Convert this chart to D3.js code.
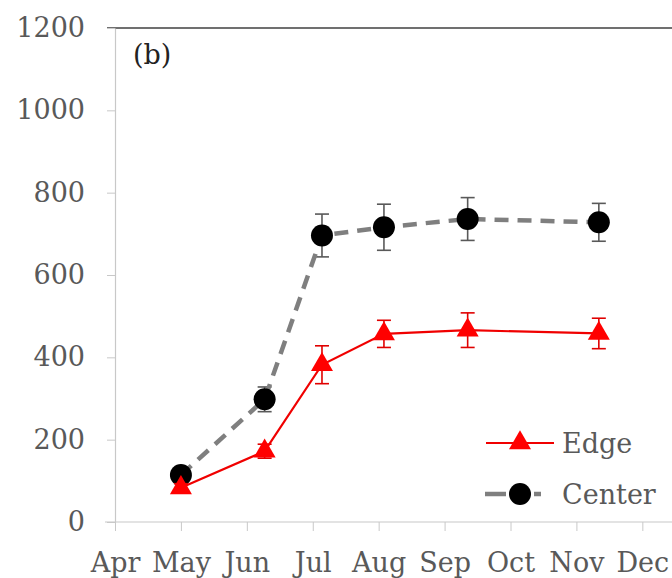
<!DOCTYPE html>
<html>
<head>
<meta charset="utf-8">
<script src="https://cdn.jsdelivr.net/npm/d3@7"></script>
<style>
  body { margin: 0; background: #fff; }
  text { font-family: "DejaVu Serif", serif; }
</style>
</head>
<body>
<div id="chart"></div>
<script>
// month labels on the x axis (Apr = 4 ... Dec = 12)
const months = ["Apr", "May", "Jun", "Jul", "Aug", "Sep", "Oct", "Nov", "Dec"];
const monthNums = [4, 5, 6, 7, 8, 9, 10, 11, 12];
const yTicks = [0, 200, 400, 600, 800, 1000, 1200];

// sampling dates as fractional month
const sampleX = [5.0, 6.27, 7.14, 8.08, 9.35, 11.34];
const edgeVals = [83, 172, 382, 457, 466, 458];
const edgeErr = [10, 17, 46, 33, 42, 37];
const centerVals = [114, 298, 696, 716, 736, 728];
const centerErr = [14, 30, 52, 56, 52, 46];

const width = 672, height = 578;
const svg = d3.select("#chart").append("svg")
  .attr("width", width)
  .attr("height", height);

const x = d3.scaleLinear().domain([4, 12.45]).range([115, 672]);
const y = d3.scaleLinear().domain([0, 1200]).range([522, 28]);

// top frame line
svg.append("line")
  .attr("x1", 107).attr("x2", width)
  .attr("y1", y(1200)).attr("y2", y(1200))
  .attr("stroke", "#404040").attr("stroke-width", 1.5);

// y axis
const yAxis = svg.append("g")
  .attr("transform", `translate(${x(4)},0)`)
  .call(d3.axisLeft(y).tickValues(yTicks).tickFormat(d3.format("d"))
    .tickSize(8).tickSizeOuter(0).tickPadding(22));
yAxis.select(".domain").attr("stroke", "#c8c8c8").attr("stroke-width", 1.2);
yAxis.selectAll(".tick line").attr("stroke", "#c8c8c8");
yAxis.selectAll(".tick text")
  .attr("fill", "#595959")
  .style("font-size", "27px")
  .style("font-family", "DejaVu Serif, serif");

// x axis
svg.append("line")
  .attr("x1", 105).attr("x2", width)
  .attr("y1", y(0)).attr("y2", y(0))
  .attr("stroke", "#c8c8c8").attr("stroke-width", 1.2);
const xAxis = svg.append("g")
  .attr("transform", `translate(0,${y(0)})`)
  .call(d3.axisBottom(x).tickValues(monthNums).tickFormat((d, i) => months[i]).tickSize(9).tickSizeOuter(0).tickPadding(22));
xAxis.select(".domain").remove();
xAxis.selectAll(".tick line").attr("stroke", "#c8c8c8");
xAxis.selectAll(".tick text")
  .attr("fill", "#595959")
  .style("font-size", "27px")
  .style("font-family", "DejaVu Serif, serif");

// panel label
svg.append("text")
  .attr("x", 133).attr("y", 64)
  .attr("fill", "#222")
  .style("font-size", "27px")
  .text("(b)");

const centerData = sampleX.map((d, i) => ({ x: d, v: centerVals[i], e: centerErr[i] }));
const edgeData = sampleX.map((d, i) => ({ x: d, v: edgeVals[i], e: edgeErr[i] }));

const line = d3.line().x(d => x(d.x)).y(d => y(d.v));

function errorBars(data, color) {
  const g = svg.append("g").attr("stroke", color).attr("stroke-width", 1.6);
  data.forEach(d => {
    const cx = x(d.x);
    g.append("line").attr("x1", cx).attr("x2", cx).attr("y1", y(d.v - d.e)).attr("y2", y(d.v + d.e));
    g.append("line").attr("x1", cx - 7).attr("x2", cx + 7).attr("y1", y(d.v + d.e)).attr("y2", y(d.v + d.e));
    g.append("line").attr("x1", cx - 7).attr("x2", cx + 7).attr("y1", y(d.v - d.e)).attr("y2", y(d.v - d.e));
  });
}

// Center series (dashed grey, black circles)
errorBars(centerData, "#595959");
svg.append("path")
  .datum(centerData)
  .attr("d", line)
  .attr("fill", "none")
  .attr("stroke", "#7f7f7f")
  .attr("stroke-width", 4.5)
  .attr("stroke-dasharray", "14,9");
svg.append("g").selectAll("circle")
  .data(centerData)
  .join("circle")
  .attr("cx", d => x(d.x))
  .attr("cy", d => y(d.v))
  .attr("r", 11)
  .attr("fill", "#000");

// Edge series (red solid, triangles)
errorBars(edgeData, "#e00000");
svg.append("path")
  .datum(edgeData)
  .attr("d", line)
  .attr("fill", "none")
  .attr("stroke", "#f00000")
  .attr("stroke-width", 2.2);
const tri = d3.symbol().type(d3.symbolTriangle).size(210);
svg.append("g").selectAll("path")
  .data(edgeData)
  .join("path")
  .attr("d", tri)
  .attr("transform", d => `translate(${x(d.x)},${y(d.v)})`)
  .attr("fill", "#ff0000");

// legend
const legend = svg.append("g");
legend.append("line")
  .attr("x1", 486).attr("x2", 554).attr("y1", 443).attr("y2", 443)
  .attr("stroke", "#f00000").attr("stroke-width", 2.2);
legend.append("path")
  .attr("d", tri)
  .attr("transform", "translate(520,443)")
  .attr("fill", "#ff0000");
legend.append("text")
  .attr("x", 562).attr("y", 453)
  .attr("fill", "#595959")
  .style("font-size", "27px")
  .text("Edge");

legend.append("line")
  .attr("x1", 485).attr("x2", 541).attr("y1", 494).attr("y2", 494)
  .attr("stroke", "#7f7f7f").attr("stroke-width", 4.5)
  .attr("stroke-dasharray", "21,28");
legend.append("circle")
  .attr("cx", 520).attr("cy", 494).attr("r", 11)
  .attr("fill", "#000");
legend.append("text")
  .attr("x", 562).attr("y", 504)
  .attr("fill", "#595959")
  .style("font-size", "27px")
  .text("Center");
</script>
</body>
</html>
